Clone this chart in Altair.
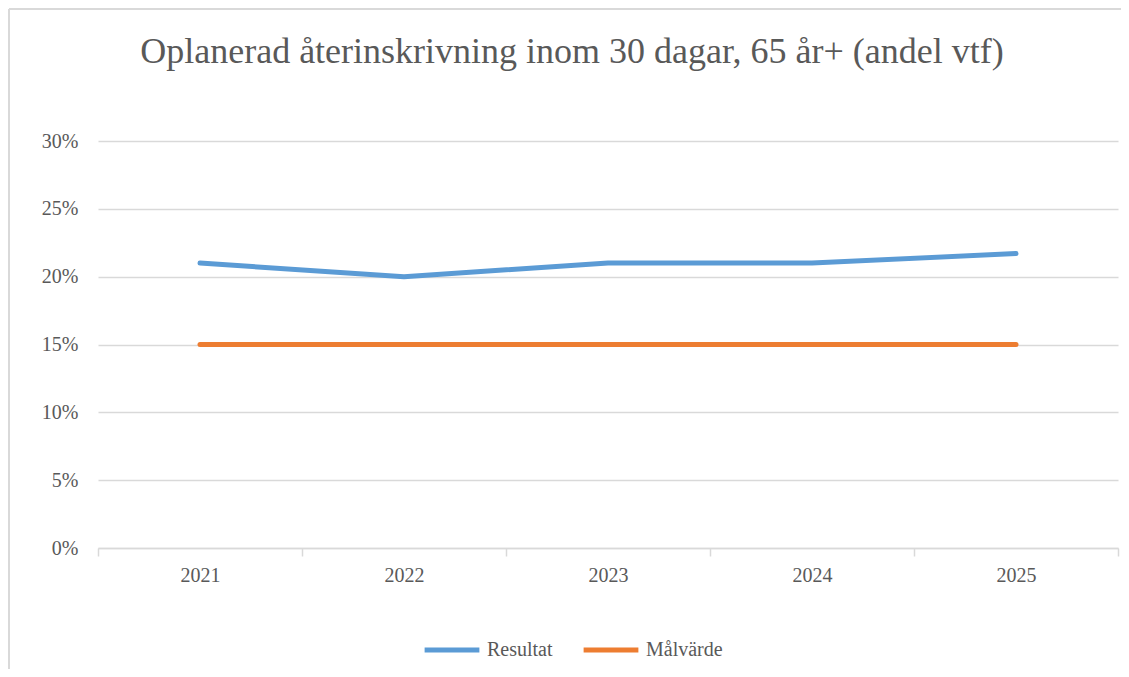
import altair as alt
import pandas as pd

years = ["2021", "2022", "2023", "2024", "2025"]
resultat = [0.21, 0.20, 0.21, 0.21, 0.217]
malvarde = [0.15, 0.15, 0.15, 0.15, 0.15]
series = ["Resultat", "Målvärde"]
colors = ["#5b9bd5", "#ed7d31"]
y_ticks = [0, 0.05, 0.10, 0.15, 0.20, 0.25, 0.30]

rows = []
for name, vals in zip(series, [resultat, malvarde]):
    for yr, v in zip(years, vals):
        rows.append({"År": yr, "Serie": name, "Värde": v})
df = pd.DataFrame(rows)

FONT = "Liberation Serif"
GRAY = "#595959"
GRID = "#d9d9d9"

lines = alt.Chart(df).mark_line(strokeWidth=5, strokeCap="round", strokeJoin="round").encode(
    x=alt.X("År:N", sort=years,
            scale=alt.Scale(type="band", paddingInner=0, paddingOuter=0),
            axis=alt.Axis(title=None, labelAngle=0, tickBand="extent", ticks=True,
                          tickSize=8, tickColor=GRID, tickWidth=1.5, domainColor=GRID,
                          domainWidth=1.5, grid=False, labelFont=FONT, labelFontSize=20,
                          labelColor=GRAY, labelPadding=9)),
    y=alt.Y("Värde:Q", scale=alt.Scale(domain=[0, 0.30], nice=False),
            axis=alt.Axis(title=None, values=y_ticks, format=".0%", ticks=False, domain=False,
                          gridColor=GRID, gridWidth=1.5, labelFont=FONT, labelFontSize=20,
                          labelColor=GRAY, labelPadding=20)),
    color=alt.Color("Serie:N", sort=series,
                    scale=alt.Scale(domain=series, range=colors),
                    legend=alt.Legend(title=None, orient="none", direction="horizontal",
                                      legendX=324, legendY=479, symbolType="stroke",
                                      symbolSize=3000, symbolStrokeWidth=5,
                                      labelFont=FONT, labelFontSize=20, labelColor=GRAY,
                                      columnPadding=20, labelOffset=5)),
)

frame_df = pd.DataFrame({"k": [0]})
left_frame = alt.Chart(frame_df).mark_rule(color=GRID, strokeWidth=2).encode(
    x=alt.value(-89), y=alt.value(-132), y2=alt.value(540))
top_frame = alt.Chart(frame_df).mark_rule(color=GRID, strokeWidth=2).encode(
    x=alt.value(-89), x2=alt.value(1023), y=alt.value(-132))

chart = alt.layer(left_frame, top_frame, lines).properties(
    width=1020, height=407,
    background="white",
    title=alt.TitleParams("Oplanerad återinskrivning inom 30 dagar, 65 år+ (andel vtf)",
                          font=FONT, fontSize=36, fontWeight="normal", color=GRAY,
                          anchor="middle", dx=-36, offset=-63),
    autosize=alt.AutoSizeParams(type="none"),
    padding={"left": 90, "top": 133, "right": 3, "bottom": 121},
).configure_view(stroke="transparent", strokeWidth=0)

chart.save("out.html", embed_options={"renderer": "svg", "actions": False})
